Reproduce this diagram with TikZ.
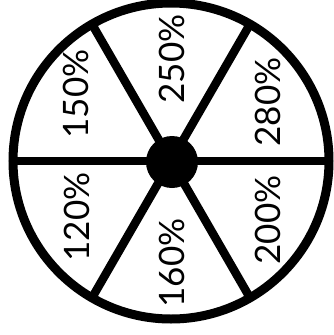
\documentclass[tikz,border=0pt]{standalone}
\usepackage{fontspec}
\setmainfont{Lato}
\usetikzlibrary{positioning}

\begin{document}
\begin{tikzpicture}[
  x=1pt,y=-1pt,
  every node/.style={font=\fontsize{35}{40}\selectfont},
  pct/.style={rotate=90,inner sep=0pt},
  rim/.style={line width=9pt},
  spoke/.style={line width=8.5pt}
]
  \useasboundingbox (0,0) rectangle (334,335);
  \coordinate (hub) at (171,161);
  \draw[rim] (hub) circle[radius=158];
  \foreach \a in {0,60,120}
    {\draw[spoke] ([shift={(\a:158)}]hub) -- ([shift={(\a+180:158)}]hub);}
  \fill (172,162) circle[radius=26];
  % labels
  \node[pct] (p250) at (172,59) {250\%};
  \node[pct] (p150) at (76,94) {150\%};
  \node[pct] (p280) at (268,102) {280\%};
  \node[pct] (p120) at (77,217) {120\%};
  \node[pct] (p160) at (172,263) {160\%};
  \node[pct] (p200) at (268,220) {200\%};
\end{tikzpicture}
\end{document}
